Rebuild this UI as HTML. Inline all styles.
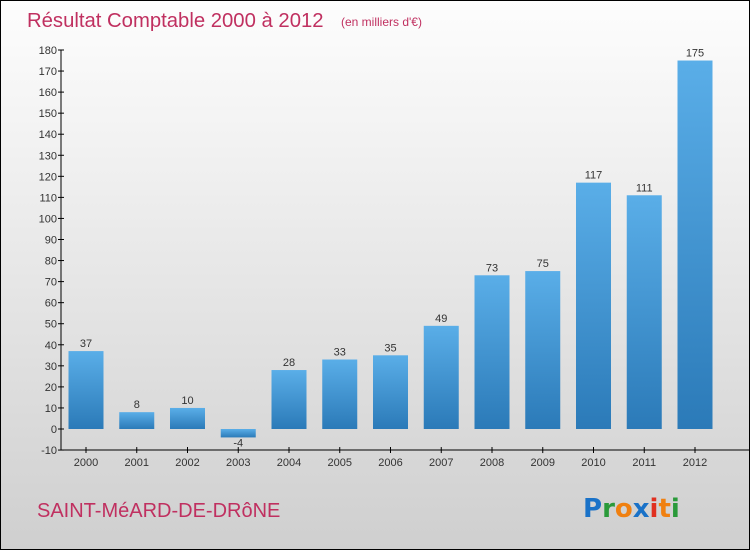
<!DOCTYPE html>
<html><head><meta charset="utf-8"><style>
body{margin:0;width:750px;height:550px;overflow:hidden}
#frame{position:absolute;left:0;top:0;width:748px;height:548px;border:1px solid #000;background:linear-gradient(#fdfdfd,#f0f0f0 30%,#cfcfcf)}
</style></head><body>
<div id="frame">
<svg width="748" height="548" style="position:absolute;left:0;top:0" font-family="'Liberation Sans',sans-serif">
<defs><linearGradient id="bg" x1="0" y1="0" x2="0" y2="1"><stop offset="0" stop-color="#5aaee8"/><stop offset="1" stop-color="#2b7ab8"/></linearGradient></defs>
<text x="26" y="26" font-size="20.3" fill="#c03060">Résultat Comptable 2000 à 2012</text>
<text x="340" y="25" font-size="12" fill="#c03060">(en milliers d'€)</text>
<text x="36" y="516" font-size="20" fill="#c03060">SAINT-MéARD-DE-DRôNE</text>
<g font-size="26" font-weight="bold" font-family="'DejaVu Sans',sans-serif"><text x="582" y="516"><tspan fill="#1a72c8">P</tspan><tspan fill="#2a9a3a">r</tspan><tspan fill="#f08010">o</tspan><tspan fill="#1a72c8">x</tspan><tspan fill="#e03020">i</tspan><tspan fill="#f08010">t</tspan><tspan fill="#2a9a3a">i</tspan></text></g>
<g id="axes"></g><g id="bars"></g>
</svg></div>
<script>
const years=["2000","2001","2002","2003","2004","2005","2006","2007","2008","2009","2010","2011","2012"];
const values=[37,8,10,-4,28,33,35,49,73,75,117,111,175];
const yTicks=[-10,0,10,20,30,40,50,60,70,80,90,100,110,120,130,140,150,160,170,180];
const NS="http://www.w3.org/2000/svg";
const y=v=>428-v*2.1056;
const x=i=>85+i*50.75;
function mk(t,a,p){const e=document.createElementNS(NS,t);for(const k in a)e.setAttribute(k,a[k]);p.appendChild(e);return e;}
const ax=document.getElementById('axes'),bs=document.getElementById('bars');
const yl=mk('line',{x1:60,x2:60,y1:y(180),y2:y(-10),stroke:'#000'},ax);


const xl=mk('line',{x1:60,x2:748,y1:y(-10),y2:y(-10),stroke:'#000'},ax);


yTicks.forEach(v=>{
 mk('line',{x1:57,x2:63,y1:y(v),y2:y(v),stroke:'#000'},ax);
 const t=mk('text',{x:56,y:y(v)+4,'text-anchor':'end','font-size':11,fill:'#333'},ax);
 t.textContent=v;
 
 
});
years.forEach((yr,i)=>{
 mk('line',{x1:x(i),x2:x(i),y1:y(-10)-3,y2:y(-10)+3,stroke:'#000'},ax);
 const t=mk('text',{x:x(i),y:y(-10)+16,'text-anchor':'middle','font-size':11,fill:'#333'},ax);
 t.textContent=yr;
 
 
 const v=values[i],top=Math.min(y(v),y(0)),h=Math.abs(y(v)-y(0));
 const r=mk('rect',{x:x(i)-17.5,y:top,width:35,height:h,fill:'url(#bg)'},bs);
 
 
 const l=mk('text',{x:x(i),y:v>=0?y(v)-4:y(v)+9,'text-anchor':'middle','font-size':11,fill:'#333'},bs);
 l.textContent=v;
 
 
});
</script>
</body></html>
